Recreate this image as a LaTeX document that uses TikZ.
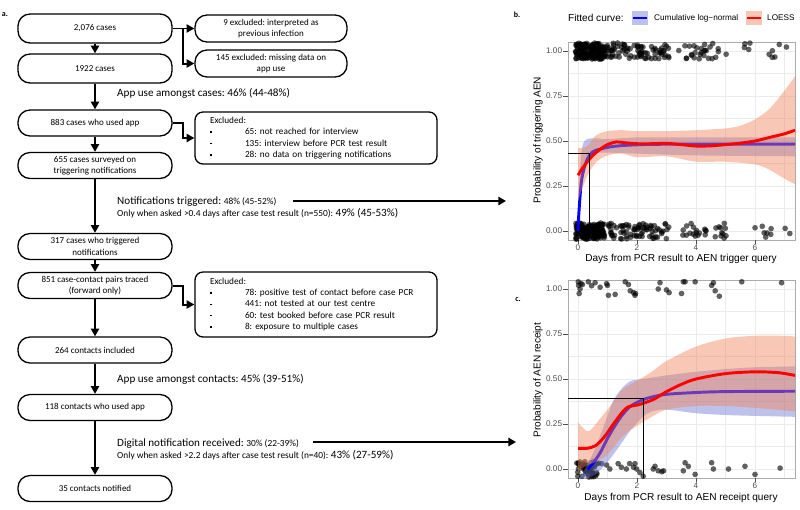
\documentclass[tikz,border=0pt]{standalone}
\usepackage{fontspec}
\setmainfont{Carlito}
\newfontfamily\plotfont{Liberation Sans}
\usetikzlibrary{arrows.meta}
\frenchspacing
\definecolor{band_blue}{RGB}{110,120,210}
\definecolor{band_red}{RGB}{240,130,90}
\definecolor{grid_grey}{RGB}{235,235,235}
\definecolor{tick_grey}{RGB}{77,77,77}
\newcommand\sq{\rule[0.4ex]{1.4pt}{1.4pt}}
\newcommand\flowfont{\fontsize{7.7}{9.6}\selectfont}
\newcommand\statfont{\fontsize{9.5}{10.2}\selectfont}
\newcommand\smallstat{\fontsize{8}{10.2}\selectfont}
\newcommand\exitem[1]{\makebox[10.5mm][l]{\sq}#1}
% grid, frame, ticks of one panel (data units)
\newcommand\panelframe{%
  \foreach \gx in {1,3,5,7} \draw[gridminor] (\gx,-0.05) -- (\gx,1.05);
  \foreach \gy in {0.125,0.375,0.625,0.875} \draw[gridminor] (-0.339,\gy) -- (7.356,\gy);
  \foreach \gx in {0,2,4,6} \draw[gridmajor] (\gx,-0.05) -- (\gx,1.05);
  \foreach \gy in {0,0.25,0.5,0.75,1} \draw[gridmajor] (-0.339,\gy) -- (7.356,\gy);
  \draw[gray!65, line width=0.6pt] (-0.339,-0.05) rectangle (7.356,1.05);
  \foreach \gy/\lab in {0/0.00,0.25/0.25,0.5/0.50,0.75/0.75,1/1.00}
    \draw[tickmark] (-0.339,\gy) -- ++(-1.4mm,0) node[ticklab,anchor=east] {\lab};
  \foreach \gx in {0,2,4,6}
    \draw[tickmark] (\gx,-0.05) -- ++(0,-1.2mm) node[ticklab,anchor=north] {\gx};
}
% one row of jittered points
\newcommand\jitterrow[4]{%
  \foreach \k in {1,...,#1}{%
    \pgfmathsetmacro\jx{#2+(#3-#2)*rnd}%
    \pgfmathsetmacro\jy{#4+0.045*rand}%
    \fill[dot] (\jx,\jy) circle[radius=0.85mm];}%
}

\begin{document}
\begin{tikzpicture}[x=0.3mm,y=-0.3mm]
    \tikzset{flowbox/.style={draw, line width=1.1pt, rounded corners=3.6mm, minimum width=46.2mm, minimum height=7.8mm, align=center, font=\flowfont, inner sep=1pt}}
    \tikzset{sidebox/.style={style=flowbox, minimum width=45.6mm, minimum height=8.1mm}}
    \tikzset{listbox/.style={draw, line width=1.1pt, rounded corners=2.4mm, text width=63.6mm, inner xsep=4.5mm, inner ysep=1pt, align=left, font=\fontsize{7.9}{9.6}\selectfont}}
    \tikzset{stat/.style={anchor=west, inner sep=0pt, font=\statfont}}
    \tikzset{flowarrow/.style={line width=1.7pt, -{Triangle[length=2.3mm,width=2.4mm]}}}
    \tikzset{longarrow/.style={line width=2.3pt, -{Triangle[length=2.3mm,width=2.5mm]}}}
    \tikzset{panellab/.style={font=\bfseries\fontsize{6.8}{7}\selectfont, inner sep=0pt}}
    \tikzset{gridmajor/.style={grid_grey, line width=0.55pt}}
    \tikzset{gridminor/.style={grid_grey, line width=0.3pt}}
    \tikzset{tickmark/.style={tick_grey, line width=0.5pt}}
    \tikzset{ticklab/.style={text=tick_grey, inner sep=0.8pt, font=\plotfont\fontsize{7}{8}\selectfont}}
    \tikzset{axtitle/.style={inner sep=0pt, font=\plotfont\fontsize{8.6}{9}\selectfont}}
    \tikzset{dot/.style={fill=black, fill opacity=0.62}}
    \tikzset{blueband/.style={fill=band_blue, fill opacity=0.45}}
    \tikzset{redband/.style={fill=band_red, fill opacity=0.45}}
    \tikzset{bluefit/.style={draw=blue, line width=2.5pt}}
    \tikzset{redfit/.style={draw=red, line width=2.5pt}}
    \tikzset{refline/.style={draw=black, line width=0.6pt}}

    \useasboundingbox (0,0) rectangle (800,509);

    % ---- a. flow chart
    \node[panellab] (alab) at (5,15) {a.};
    \node[flowbox, minimum height=8.7mm] (all)      at (95,28.5)  {2,076 cases};
    \node[flowbox, minimum height=8.7mm] (kept)     at (95,68.5)  {1922 cases};
    \node[flowbox]                       (users)    at (95,123)   {883 cases who used app};
    \node[flowbox]                       (surveyed) at (95,165.5) {655 cases surveyed on\\triggering notifications};
    \node[flowbox]                       (trig)     at (95,246.5) {317 cases who triggered\\notifications};
    \node[flowbox]                       (pairs)    at (95,285.5) {851 case-contact pairs traced\\(forward only)};
    \node[flowbox]                       (incl)     at (95,350)   {264 contacts included};
    \node[flowbox]                       (cusers)   at (95,407.5) {118 contacts who used app};
    \node[flowbox]                       (notif)    at (95,488.5) {35 contacts notified};

    \node[sidebox] (exprev) at (271,28.5) {9 excluded: interpreted as\\previous infection};
    \node[sidebox] (exmiss) at (271,63.5) {145 excluded: missing data on\\app use};
    \node[listbox, minimum height=15.6mm] (exint) at (316,138) {Excluded:\\
      \exitem{65: not reached for interview}\\
      \exitem{135: interview before PCR test result}\\
      \exitem{28: no data on triggering notifications}};
    \node[listbox, minimum height=19.5mm] (excon) at (316,304.5) {Excluded:\\
      \exitem{78: positive test of contact before case PCR}\\
      \exitem{441: not tested at our test centre}\\
      \exitem{60: test booked before case PCR result}\\
      \exitem{8: exposure to multiple cases}};

    \node[stat] (appcases) at (117,93) {App use amongst cases: 46\% (44-48\%)};
    \node[stat, align=left] (trigstat) at (117,207) {Notifications triggered: {\smallstat 48\% (45-52\%)}\\
      {\smallstat Only when asked >0.4 days after case test result (n=550):} 49\% (45-53\%)};
    \node[stat] (appcont) at (117,379) {App use amongst contacts: 45\% (39-51\%)};
    \node[stat, align=left] (notifstat) at (117,449) {Digital notification received: {\smallstat 30\% (22-39\%)}\\
      {\smallstat Only when asked >2.2 days after case test result (n=40):} 43\% (27-59\%)};

    \coordinate (jA) at (183,28.5);
    \coordinate (jB) at (183,123);
    \coordinate (jC) at (183,285.5);
    \coordinate (trigA) at (293,201);
    \coordinate (trigB) at (506,201);
    \coordinate (notifA) at (313,442);
    \coordinate (notifB) at (516,442);

    \draw[flowarrow] (all) -- (kept);
    \draw[flowarrow] (kept) -- (users);
    \draw[flowarrow] (users) -- (surveyed);
    \draw[flowarrow] (surveyed) -- (trig);
    \draw[flowarrow] (trig) -- (pairs);
    \draw[flowarrow] (pairs) -- (incl);
    \draw[flowarrow] (incl) -- (cusers);
    \draw[flowarrow] (cusers) -- (notif);
    \draw[flowarrow] (all.east) -- (exprev.west);
    \draw[flowarrow] (jA) |- (exmiss.west);
    \draw[flowarrow] (users.east) -- (jB) |- (exint.west);
    \draw[flowarrow] (pairs.east) -- (jC) |- (excon.west);
    \draw[longarrow] (trigA) -- (trigB);
    \draw[longarrow] (notifA) -- (notifB);

    % ---- legend
    \node[panellab] (blab) at (517,15) {b.};
    \node[axtitle, anchor=west] (legtitle) at (568,18) {Fitted curve:};
    \fill[blueband] (632,11) rectangle (648,25);
    \draw[blue, line width=1.8pt] (633,18) -- (647,18);
    \node[ticklab, text=black, anchor=west, inner sep=0pt] (legblue) at (654,18) {Cumulative log\textminus normal};
    \fill[redband] (746,11) rectangle (762,25);
    \draw[red, line width=1.8pt] (747,18) -- (761,18);
    \node[ticklab, text=black, anchor=west, inner sep=0pt] (legred) at (767,18) {LOESS};

    % ---- b. triggering
    \begin{scope}[shift={(578,231)}, x=8.85mm, y=54mm]
      \panelframe
      \pgfmathsetseed{11}
      \jitterrow{150}{-0.08}{0.9}{1}
      \jitterrow{85}{0.9}{3.1}{1}
      \jitterrow{28}{3.4}{5.1}{1}
      \jitterrow{10}{5.6}{7.2}{1}
      \jitterrow{150}{-0.08}{0.9}{0}
      \jitterrow{75}{1.0}{3.1}{0}
      \jitterrow{28}{3.5}{5.1}{0}
      \jitterrow{9}{5.8}{7.2}{0}
      \begin{scope}
        \clip (-0.339,-0.05) rectangle (7.356,1.05);
        \fill[blueband] plot[smooth] coordinates {(0,0.0) (0.05,0.3) (0.15,0.47) (0.3,0.51) (0.6,0.515) (1,0.51) (2,0.52) (4,0.52) (7.356,0.52)}
          -- plot[smooth] coordinates {(7.356,0.415) (4,0.42) (2,0.43) (1,0.435) (0.6,0.43) (0.3,0.38) (0.15,0.28) (0.05,0.1) (0,0.0)} -- cycle;
        \draw[bluefit] plot[smooth] coordinates {(0,0) (0.03,0.1) (0.12,0.28) (0.29,0.39) (0.5,0.44) (0.75,0.455) (1.2,0.47) (1.88,0.478) (3,0.482) (7.356,0.483)};
        \fill[redband] plot[smooth] coordinates {(0,0.46) (0.3,0.47) (0.6,0.53) (1,0.555) (1.5,0.56) (2,0.555) (3,0.555) (4,0.56) (5,0.57) (5.5,0.585) (6,0.62) (6.5,0.68) (7,0.78) (7.356,0.86)}
          -- plot[smooth] coordinates {(7.356,0.26) (7,0.29) (6.5,0.34) (6,0.37) (5,0.385) (4,0.385) (3,0.415) (2,0.41) (1.5,0.43) (1,0.42) (0.6,0.38) (0.3,0.3) (0,0.17)} -- cycle;
        \draw[redfit] plot[smooth] coordinates {(0,0.31) (0.2,0.36) (0.5,0.42) (0.8,0.46) (1.0,0.48) (1.3,0.495) (1.6,0.49) (2,0.485) (2.5,0.485) (3,0.487) (3.5,0.48) (4,0.472) (4.5,0.473) (5,0.48) (5.5,0.488) (6,0.5) (6.5,0.52) (7,0.54) (7.356,0.56)};
        \draw[refline] (-0.339,0.433) -| (0.4,0);
      \end{scope}
    \end{scope}
    \node[axtitle] (bxtitle) at (681,259) {Days from PCR result to AEN trigger query};
    \node[axtitle, rotate=90] (bytitle) at (538,140) {Probability of triggering AEN};

    % ---- c. receipt
    \node[panellab] (clab) at (518,300) {c.};
    \begin{scope}[shift={(578,469)}, x=8.85mm, y=54mm]
      \panelframe
      \foreach \px/\py in {0.01/1.04,0.07/1.0,0.04/0.975,0.1/1.03,0.02/1.02,0.15/1.025,0.35/1.04,0.46/1.018,0.58/1.035,0.75/1.01,0.97/1.03,1.0/1.02,1.03/0.965,1.26/0.97,1.6/1.04,1.71/1.025,1.77/0.99,1.88/0.98,1.93/0.965,1.95/0.975,2.72/1.0,2.78/1.035,3.0/0.995,3.09/0.98,3.51/0.975,3.57/1.04,3.63/1.04,3.97/1.04,4.53/1.02,4.59/1.035,4.65/0.99,4.79/0.96,5.55/1.04,6.9/1.035}
        \fill[dot] (\px,\py) circle[radius=0.85mm];
      \pgfmathsetseed{5}
      \jitterrow{45}{-0.05}{0.7}{0}
      \foreach \px/\py in {0.63/-0.02,0.8/0.03,0.97/0.022,1.08/0,1.36/0.03,1.47/0.01,1.64/0,1.75/0.03,1.88/0.01,1.93/0.03,1.99/0.0,2.1/-0.02,2.21/-0.04,2.55/0,2.61/0.015,2.72/-0.01,2.84/-0.015,2.9/-0.01,3.57/-0.01,3.63/0.035,3.74/0.015,3.97/-0.03,4.53/0.035,4.59/0.0,5.1/0.0,5.66/0.015,6.0/-0.03,6.85/0.005}
        \fill[dot] (\px,\py) circle[radius=0.85mm];
      \begin{scope}
        \clip (-0.339,-0.05) rectangle (7.356,1.05);
        \fill[blueband] plot[smooth] coordinates {(0.05,-0.05) (0.3,0.02) (0.6,0.12) (0.9,0.25) (1.2,0.38) (1.5,0.45) (1.8,0.49) (2.2,0.5) (3,0.52) (4,0.54) (5,0.555) (6,0.565) (7.356,0.57)}
          -- plot[smooth] coordinates {(7.356,0.29) (6,0.295) (5,0.30) (4,0.31) (3,0.33) (2.5,0.32) (2.2,0.29) (1.8,0.22) (1.5,0.15) (1.2,0.08) (0.9,0.02) (0.6,-0.03) (0.3,-0.05)} -- cycle;
        \draw[bluefit] plot[smooth] coordinates {(0.33,0) (0.5,0.03) (0.75,0.09) (1,0.17) (1.25,0.24) (1.5,0.3) (1.75,0.345) (2,0.37) (2.2,0.385) (2.5,0.4) (3,0.415) (4,0.425) (5,0.43) (7.356,0.432)};
        \fill[redband] plot[smooth] coordinates {(0,0.26) (0.1,0.24) (0.3,0.21) (0.45,0.22) (0.7,0.27) (1,0.33) (1.5,0.44) (2,0.49) (2.5,0.54) (3,0.6) (4,0.68) (5,0.725) (6,0.74) (7,0.74) (7.356,0.735)}
          -- plot[smooth] coordinates {(7.356,0.32) (6,0.34) (5,0.35) (4,0.35) (3,0.33) (2.5,0.29) (2,0.24) (1.5,0.18) (1,0.08) (0.6,0.04) (0.3,0.02) (0.1,0.0) (0,-0.02)} -- cycle;
        \draw[redfit] plot[smooth] coordinates {(0,0.115) (0.3,0.115) (0.6,0.13) (0.9,0.18) (1.2,0.25) (1.5,0.315) (1.7,0.345) (2,0.355) (2.3,0.37) (2.6,0.39) (3,0.43) (3.5,0.47) (4,0.5) (5,0.53) (6,0.54) (6.8,0.535) (7.356,0.52)};
        \draw[refline] (-0.339,0.39) -| (2.2,-0.05);
      \end{scope}
    \end{scope}
    \node[axtitle] (cxtitle) at (681,498) {Days from PCR result to AEN receipt query};
    \node[axtitle, rotate=90] (cytitle) at (538,380) {Probability of AEN receipt};
\end{tikzpicture}
\end{document}
